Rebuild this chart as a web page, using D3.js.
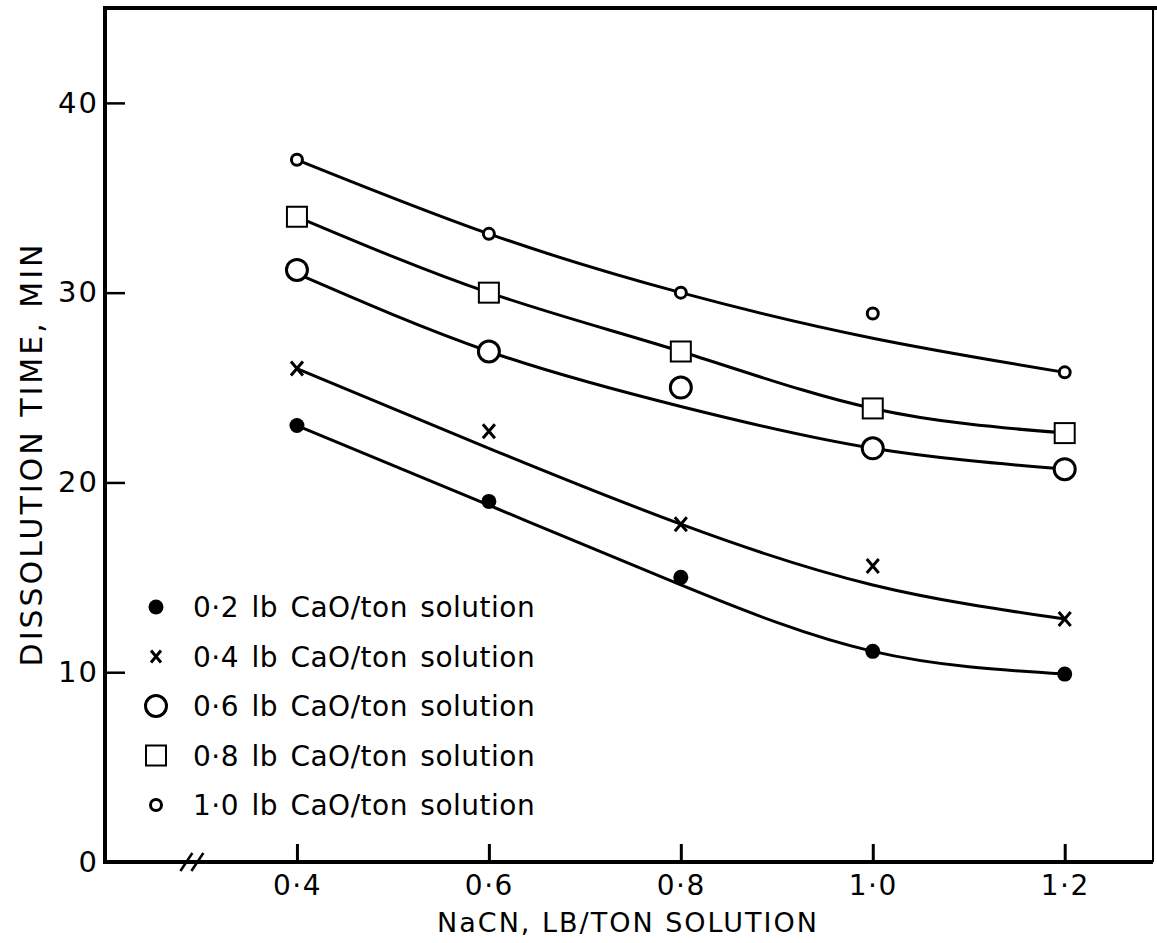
<!DOCTYPE html>
<html>
<head>
<meta charset="utf-8">
<script src="https://cdn.jsdelivr.net/npm/d3@7"></script>
<style>
  body { margin: 0; background: #fff; }
  text { font-family: "DejaVu Sans", Arial, sans-serif; fill: #000; }
</style>
</head>
<body>
<script>
//data
const nacn = [0.4, 0.6, 0.8, 1.0, 1.2];
const labels = [
  "0·2 lb CaO/ton solution",
  "0·4 lb CaO/ton solution",
  "0·6 lb CaO/ton solution",
  "0·8 lb CaO/ton solution",
  "1·0 lb CaO/ton solution",
];
//measured points (min)
const cao02 = [23.0, 19.0, 15.0, 11.1, 9.9];
const cao04 = [26.0, 22.7, 17.8, 15.6, 12.8];
const cao06 = [31.2, 26.9, 25.0, 21.8, 20.7];
const cao08 = [34.0, 30.0, 26.9, 23.9, 22.6];
const cao10 = [37.0, 33.1, 30.0, 28.9, 25.8];
//hand drawn curves, read at the same x
const fit02 = [23.0, 18.8, 14.6, 11.1, 9.9];
const fit04 = [26.0, 21.8, 17.8, 14.6, 12.8];
const fit06 = [31.0, 26.9, 24.0, 21.8, 20.7];
const fit08 = [34.0, 30.0, 26.9, 23.9, 22.6];
const fit10 = [37.0, 33.1, 30.0, 27.6, 25.8];
const yTicks = [0, 10, 20, 30, 40];
const xTicks = [0.4, 0.6, 0.8, 1.0, 1.2];

const points = [cao02, cao04, cao06, cao08, cao10];
const fits = [fit02, fit04, fit06, fit08, fit10];
const symbols = ["dot", "cross", "bigcircle", "square", "smallcircle"];

//SVG setup
const margin = { top: 8, right: 4, bottom: 81, left: 105 },
  width = 1157 - margin.left - margin.right,
  height = 943 - margin.top - margin.bottom;

const svg = d3
  .select("body")
  .append("svg")
  .attr("width", 1157)
  .attr("height", 943)
  .append("g")
  .attr("transform", `translate(${margin.left}, ${margin.top})`);

const x = d3.scaleLinear().domain([0.2, 1.292]).range([0, width]);
const y = d3.scaleLinear().domain([0, 45]).range([height, 0]);

const fmt = (d) => d3.format(".1f")(d).replace(".", "·");

//y axis, ticks pointing inside
svg
  .append("g")
  .call(d3.axisLeft(y).tickValues(yTicks).tickSize(-20).tickPadding(6).tickFormat(d3.format("d")))
  .call((g) => g.select(".domain").remove())
  .call((g) => g.selectAll("line").attr("stroke", "#000").attr("stroke-width", 2.5))
  .call((g) => g.selectAll("text").style("font-size", "29px").style("letter-spacing", "2px"));

//x axis, ticks pointing up
svg
  .append("g")
  .attr("transform", `translate(0, ${height})`)
  .call(d3.axisBottom(x).tickValues(xTicks).tickSize(-18).tickPadding(13).tickFormat(fmt))
  .call((g) => g.select(".domain").remove())
  .call((g) => g.selectAll("line").attr("stroke", "#000").attr("stroke-width", 3))
  .call((g) => g.selectAll("text").style("font-size", "28px").style("letter-spacing", "1.5px"));

//frame
svg.append("line").attr("x1", 0).attr("x2", 0).attr("y1", 0).attr("y2", height)
  .attr("stroke", "#000").attr("stroke-width", 4);
svg.append("line").attr("x1", -2).attr("x2", width).attr("y1", height).attr("y2", height)
  .attr("stroke", "#000").attr("stroke-width", 4);
svg.append("line").attr("x1", -2).attr("x2", width + 4).attr("y1", 0).attr("y2", 0)
  .attr("stroke", "#000").attr("stroke-width", 4);
svg.append("line").attr("x1", width).attr("x2", width).attr("y1", 0).attr("y2", height)
  .attr("stroke", "#000").attr("stroke-width", 2);

//axis break
[-5, 6].forEach((o) => {
  svg
    .append("line")
    .attr("x1", x(0.29) + o - 6)
    .attr("y1", height + 9)
    .attr("x2", x(0.29) + o + 6)
    .attr("y2", height - 9)
    .attr("stroke", "#000")
    .attr("stroke-width", 2.5);
});

//curves
const line = d3
  .line()
  .x((d) => x(d[0]))
  .y((d) => y(d[1]))
  .curve(d3.curveNatural);

svg
  .selectAll(".fit")
  .data(fits)
  .enter()
  .append("path")
  .attr("class", "fit")
  .attr("d", (f) => line(nacn.map((n, i) => [n, f[i]])))
  .attr("fill", "none")
  .attr("stroke", "#000")
  .attr("stroke-width", 3);

//draw one marker into a g
function marker(g, kind, small) {
  if (kind == "dot") {
    g.append("circle").attr("r", 7.5).attr("fill", "#000");
  } else if (kind == "cross") {
    const w = small ? 5 : 6, h = small ? 6 : 7;
    g.append("path")
      .attr("d", `M${-w},${-h}L${w},${h}M${w},${-h}L${-w},${h}`)
      .attr("stroke", "#000")
      .attr("stroke-width", 3);
  } else if (kind == "bigcircle") {
    g.append("circle").attr("r", 10.5).attr("fill", "#fff").attr("stroke", "#000").attr("stroke-width", 3);
  } else if (kind == "square") {
    g.append("rect").attr("x", -10).attr("y", -10).attr("width", 20).attr("height", 20)
      .attr("fill", "#fff").attr("stroke", "#000").attr("stroke-width", 2);
  } else {
    g.append("circle").attr("r", 5.5).attr("fill", "#fff").attr("stroke", "#000").attr("stroke-width", 3);
  }
}

//points
points.forEach((s, k) => {
  svg
    .selectAll(".pt" + k)
    .data(s)
    .enter()
    .append("g")
    .attr("class", "pt" + k)
    .attr("transform", (d, i) => `translate(${x(nacn[i])}, ${y(d)})`)
    .each(function () {
      marker(d3.select(this), symbols[k], false);
    });
});

//legend
const legend = svg
  .selectAll(".leg")
  .data(labels)
  .enter()
  .append("g")
  .attr("class", "leg")
  .attr("transform", (d, i) => `translate(51, ${599 + i * 49.5})`);

legend.each(function (d, i) {
  marker(d3.select(this), symbols[i], true);
});

legend
  .append("text")
  .attr("x", 37)
  .attr("y", 10)
  .style("font-size", "28px")
  .style("letter-spacing", "0.5px")
  .style("word-spacing", "3px")
  .text((d) => d);

//axis titles
svg
  .append("text")
  .attr("x", x(0.745))
  .attr("y", height + 70)
  .attr("text-anchor", "middle")
  .style("font-size", "27px")
  .style("letter-spacing", "2px")
  .text("NaCN, LB/TON SOLUTION");

svg
  .append("text")
  .attr("transform", `translate(${42 - margin.left}, ${454 - margin.top}) rotate(-90)`)
  .attr("text-anchor", "middle")
  .style("font-size", "30px")
  .style("letter-spacing", "3px")
  .text("DISSOLUTION TIME, MIN");
</script>
</body>
</html>
